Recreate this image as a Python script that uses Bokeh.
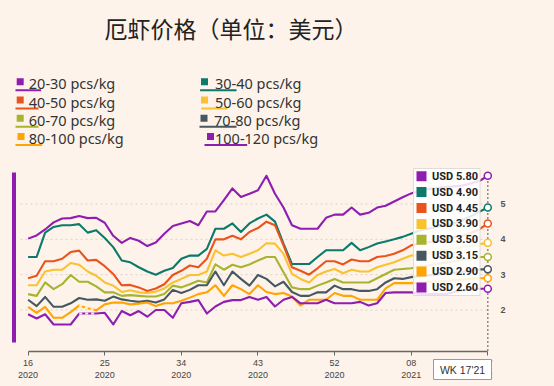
from bokeh.plotting import figure
from bokeh.models import FixedTicker, Range1d
from bokeh.embed import file_html
from bokeh.resources import INLINE
from bokeh.core.properties import value

# ---------------- data ----------------
week_index = list(range(55))            # week 16'20 ... week 17'21
tick_positions = [0, 9, 18, 27, 36, 45, 54]
tick_labels = ["16\n2020", "25\n2020", "34\n2020", "43\n2020", "52\n2020", "08\n2021", "17\n2021"]
y_ticks = [2, 3, 4, 5]
title_text = "厄虾价格（单位：美元）"
crosshair_label = "WK 17'21"

series_names = ["20-30 pcs/kg", "30-40 pcs/kg", "40-50 pcs/kg", "50-60 pcs/kg",
                "60-70 pcs/kg", "70-80 pcs/kg", "80-100 pcs/kg", "100-120 pcs/kg"]

s_20_30 = [4.02, 4.11, 4.28, 4.48, 4.59, 4.60, 4.66, 4.60, 4.61, 4.47,
           4.10, 3.90, 4.04, 3.96, 3.81, 3.91, 4.16, 4.38, 4.45, 4.52,
           4.40, 4.79, 4.79, 5.11, 5.44, 5.20, 5.29, 5.39, 5.80, 5.29,
           4.90, 4.40, 4.30, 4.30, 4.30, 4.61, 4.70, 4.70, 4.90, 4.70,
           4.75, 4.90, 4.95, 5.07, 5.19, 5.30, 5.38, 5.42, 5.45, 5.48,
           5.50, 5.52, 5.58, 5.65, 5.80]
s_30_40 = [3.50, 3.50, 4.19, 4.35, 4.40, 4.40, 4.43, 4.19, 4.26, 4.04,
           3.78, 3.40, 3.35, 3.21, 3.09, 3.00, 3.11, 3.19, 3.45, 3.54,
           3.54, 3.73, 4.30, 4.30, 4.45, 4.21, 4.45, 4.59, 4.70, 4.50,
           3.88, 3.30, 3.30, 3.30, 3.50, 3.69, 3.69, 3.69, 3.90, 3.69,
           3.78, 3.88, 3.94, 4.00, 4.07, 4.16, 4.25, 4.30, 4.35, 4.40,
           4.45, 4.55, 4.65, 4.78, 4.90]
s_40_50 = [2.90, 2.97, 3.38, 3.38, 3.45, 3.64, 3.68, 3.40, 3.42, 3.24,
           3.02, 2.70, 2.71, 2.64, 2.54, 2.61, 2.73, 2.99, 3.11, 3.26,
           3.21, 3.45, 4.00, 4.00, 4.10, 4.00, 4.21, 4.32, 4.50, 4.40,
           3.83, 3.21, 3.11, 3.00, 3.18, 3.38, 3.38, 3.29, 3.43, 3.38,
           3.38, 3.50, 3.53, 3.59, 3.69, 3.83, 3.88, 3.92, 3.95, 4.00,
           4.05, 4.10, 4.18, 4.28, 4.45]
s_50_60 = [2.70, 2.70, 3.09, 3.14, 3.14, 3.33, 3.28, 3.09, 2.97, 2.78,
           2.69, 2.51, 2.56, 2.50, 2.48, 2.52, 2.61, 2.78, 2.88, 2.99,
           2.99, 3.09, 3.69, 3.54, 3.59, 3.50, 3.59, 3.69, 3.89, 3.88,
           3.59, 3.02, 2.88, 2.78, 2.99, 3.09, 3.16, 3.04, 3.14, 3.09,
           3.09, 3.21, 3.28, 3.35, 3.45, 3.54, 3.58, 3.62, 3.65, 3.70,
           3.74, 3.78, 3.82, 3.86, 3.90]
s_60_70 = [2.45, 2.40, 2.78, 2.59, 2.73, 2.99, 2.80, 2.80, 2.67, 2.50,
           2.50, 2.40, 2.42, 2.40, 2.38, 2.38, 2.45, 2.69, 2.64, 2.73,
           2.83, 2.78, 3.29, 3.14, 3.28, 3.21, 3.29, 3.40, 3.50, 3.50,
           3.07, 2.64, 2.59, 2.59, 2.69, 2.78, 2.88, 2.78, 2.78, 2.78,
           2.78, 2.90, 3.02, 3.14, 3.16, 3.18, 3.22, 3.26, 3.30, 3.34,
           3.38, 3.42, 3.46, 3.50, 3.50]
s_70_80 = [2.29, 2.11, 2.37, 2.09, 2.09, 2.19, 2.34, 2.29, 2.30, 2.26,
           2.38, 2.30, 2.26, 2.23, 2.26, 2.21, 2.30, 2.57, 2.48, 2.57,
           2.70, 2.70, 3.09, 2.70, 3.09, 2.88, 2.69, 2.99, 2.88, 2.67,
           2.80, 2.51, 2.40, 2.40, 2.50, 2.50, 2.69, 2.59, 2.59, 2.54,
           2.54, 2.59, 2.78, 2.90, 2.88, 2.93, 2.96, 2.98, 3.00, 3.02,
           3.05, 3.08, 3.12, 3.15, 3.15]
s_80_100 = [2.09, 1.92, 2.09, 1.78, 1.78, 1.94, 2.13, 2.05, 1.99, 2.16,
            2.21, 2.21, 2.16, 2.18, 2.21, 2.11, 2.19, 2.19, 2.26, 2.35,
            2.45, 2.50, 2.70, 2.40, 2.70, 2.59, 2.45, 2.70, 2.51, 2.45,
            2.48, 2.38, 2.13, 2.29, 2.29, 2.29, 2.48, 2.40, 2.40, 2.29,
            2.29, 2.29, 2.61, 2.76, 2.76, 2.76, 2.78, 2.80, 2.80, 2.82,
            2.84, 2.86, 2.88, 2.90, 2.90]
s_100_120 = [1.88, 1.76, 1.88, 1.59, 1.59, 1.59, 1.90, 1.90, 1.90, 1.92,
             1.59, 1.97, 1.85, 1.97, 1.81, 2.00, 2.00, 1.78, 2.19, 2.23,
             2.28, 1.90, 2.10, 2.23, 2.28, 2.28, 2.37, 2.29, 2.37, 2.10,
             2.29, 2.37, 2.19, 2.19, 2.19, 2.29, 2.19, 2.19, 2.19, 2.23,
             2.13, 2.19, 2.48, 2.50, 2.50, 2.50, 2.45, 2.45, 2.45, 2.45,
             2.50, 2.55, 2.58, 2.60, 2.60]
gap_weeks = [6, 8]      # interpolated stretch drawn dashed in two series

all_series = [s_20_30, s_30_40, s_40_50, s_50_60, s_60_70, s_70_80, s_80_100, s_100_120]

# ---------------- styles ----------------
BG = "#FDF3EA"
colors = ["#8F1DB0", "#0B7A6A", "#E9541C", "#F9C22E",
          "#A7B42E", "#465760", "#FFA400", "#8F1DB0"]

# page-pixel -> data helpers (layout only)
X0, STEP = 27.6, (487.3 - 27.6) / 54
Y2, UNIT = 309.5, 35.33
def X(px):
    return (px - X0) / STEP
def Y(py):
    return 2 + (Y2 - py) / UNIT

p = figure(width=554, height=386, output_backend="svg", toolbar_location=None,
           title=None, y_axis_location="right",
           x_range=Range1d(X(0), X(492)), y_range=Range1d(Y(386), Y(0)),
           min_border_left=0, min_border_top=0, min_border_right=62, min_border_bottom=0)
p.background_fill_color = BG
p.border_fill_color = BG
p.outline_line_color = None
p.xgrid.visible = False
p.ygrid.visible = False

# x axis drawn at the chart baseline inside the frame
p.xaxis.fixed_location = Y(350.5)
p.xaxis.ticker = FixedTicker(ticks=tick_positions)
p.xaxis.major_label_overrides = dict(zip(tick_positions, tick_labels))
p.xaxis.bounds = (tick_positions[0], tick_positions[-1])
p.xaxis.axis_line_color = "#666666"
p.xaxis.axis_line_width = 1.3
p.xaxis.major_tick_line_color = "#666666"
p.xaxis.major_tick_out = 4
p.xaxis.major_tick_in = 0
p.xaxis.minor_tick_line_color = None
p.xaxis.major_label_text_font = "Liberation Sans"
p.xaxis.major_label_text_font_size = "9px"
p.xaxis.major_label_text_color = "#444444"
p.xaxis.major_label_standoff = 3

p.yaxis.ticker = FixedTicker(ticks=y_ticks)
p.yaxis.axis_line_color = None
p.yaxis.major_tick_line_color = None
p.yaxis.minor_tick_line_color = None
p.yaxis.major_label_text_font = "Liberation Sans"
p.yaxis.major_label_text_font_size = "9px"
p.yaxis.major_label_text_font_style = "bold"
p.yaxis.major_label_text_color = "#555555"
p.yaxis.major_label_standoff = 2

# dotted grid lines
p.segment(x0=[X(20)] * len(y_ticks), x1=[week_index[-1]] * len(y_ticks),
          y0=y_ticks, y1=y_ticks, line_color="#d9d2ca", line_width=1, line_dash="2 3")

# purple side bar
p.segment(x0=[X(13.5)], x1=[X(13.5)], y0=[Y(172)], y1=[Y(342)],
          line_color=colors[0], line_width=4, line_cap="butt")

# series lines
for s, c in zip(all_series, colors):
    p.line(week_index, s, line_color=c, line_width=2.1, line_join="round")
for s in (s_80_100, s_100_120):
    a, b = gap_weeks
    p.line(week_index[a:b + 1], s[a:b + 1], line_color="white", line_width=2,
           line_dash="3 3", line_alpha=0.9)

# crosshair
last_vals = [s[-1] for s in all_series]
p.segment(x0=[week_index[-1]], x1=[week_index[-1]], y0=[Y(350.5)], y1=[max(last_vals)],
          line_color="#8a8a8a", line_width=1.5, line_dash="2 2")
p.scatter([week_index[-1]] * len(last_vals), last_vals, marker="circle", size=7,
          fill_color="white", line_color=colors, line_width=1.5)

# tooltip box
p.quad(left=[X(413)], right=[X(479.5)], top=[Y(168)], bottom=[Y(295)],
       fill_color="white", fill_alpha=0.86, line_color="#e0dcd8", line_width=1)
tt_rows = [175.7 + 15.9 * k for k in range(len(last_vals))]
p.scatter([X(421)] * len(last_vals), [Y(r) for r in tt_rows], marker="square", size=10,
          fill_color=colors, line_color=None)
p.text([X(431.5)] * len(last_vals), [Y(r) for r in tt_rows],
       text=["USD %.2f" % v for v in last_vals],
       text_font=value("Roboto"), text_font_style="bold", text_font_size="11px",
       text_color="#222222", text_baseline="middle", text_align="left")

# title
p.text([X(104)], [Y(27)], text=[title_text], text_font=value("Noto Sans CJK SC"),
       text_font_size="23px", text_color="#222222", text_baseline="middle", text_align="left")

# legend (two columns, square + underline)
leg_sq_x = [19.7, 204, 19.7, 204, 19.7, 203.5, 20.5, 210]
leg_text_x = [28.3, 214.5, 28.3, 214.5, 28.3, 213.5, 28.3, 214.5]
leg_y = [82.8, 82.8, 101, 101, 119.3, 119.3, 137.6, 137.6]
ul_x0 = [15, 199.6, 15, 200.7, 15, 199, 15, 204]
ul_x1 = [40.6, 236, 38, 227, 38, 236, 41.7, 246.7]
ul_dy = 7
p.segment(x0=[X(v) for v in ul_x0], x1=[X(v) for v in ul_x1],
          y0=[Y(v + ul_dy) for v in leg_y], y1=[Y(v + ul_dy) for v in leg_y],
          line_color=colors, line_width=2)
p.scatter([X(v) for v in leg_sq_x], [Y(v - 1.5) for v in leg_y], marker="square", size=7,
          fill_color=colors, line_color=None)
p.text([X(v) for v in leg_text_x], [Y(v) for v in leg_y], text=series_names,
       text_font=value("Noto Sans"), text_font_size="14.5px", text_color="#333333",
       text_baseline="middle", text_align="left")

# crosshair week label box (drawn above the axis labels)
p.quad(left=[X(433)], right=[X(491)], top=[Y(359)], bottom=[Y(379)],
       fill_color="white", line_color="#9a9a9a", line_width=1, level="overlay")
p.text([X(462)], [Y(369.3)], text=[crosshair_label], text_font=value("Liberation Sans"),
       text_font_size="10.5px", text_color="#333333", text_align="center",
       text_baseline="middle", level="overlay")

html = file_html(p, INLINE)
html = html.replace("<head>", "<head><style>body{background:%s;}</style>" % BG, 1)
open("out.html", "w").write(html)
